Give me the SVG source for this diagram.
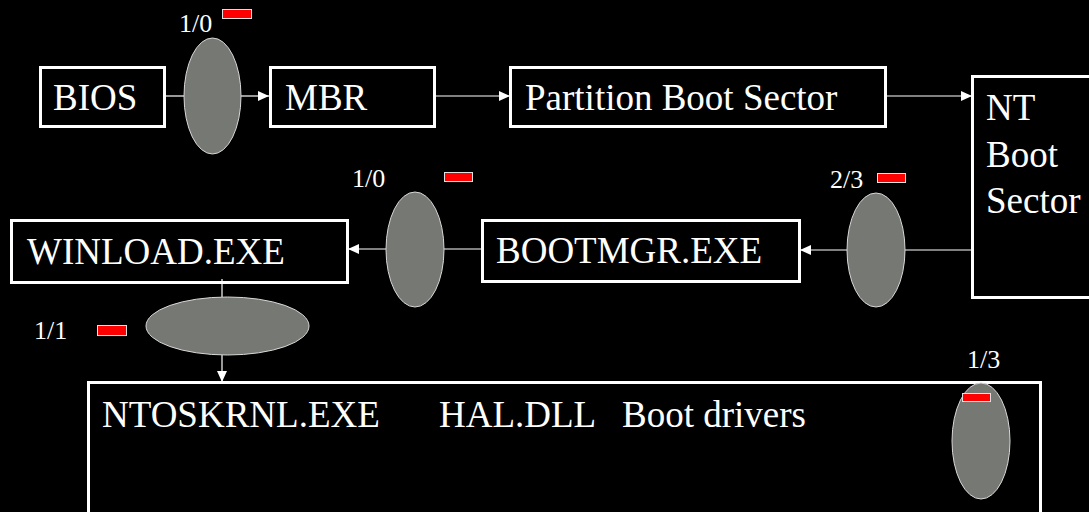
<svg xmlns="http://www.w3.org/2000/svg" width="1089" height="512" viewBox="0 0 1089 512">
<defs>
<marker id="ah" markerUnits="userSpaceOnUse" markerWidth="11" markerHeight="10" refX="11" refY="5" orient="auto">
<path d="M0,0 L11,5 L0,10 z" fill="#fff"/>
</marker>
</defs>
<rect width="1089" height="512" fill="#000"/>
<g id="connectors" stroke="#fff" stroke-width="1.2" fill="none">
<line x1="166" y1="96" x2="184" y2="96"/>
<line x1="241" y1="96" x2="269" y2="96" marker-end="url(#ah)"/>
<line x1="435" y1="96" x2="510" y2="96" marker-end="url(#ah)"/>
<line x1="886" y1="96" x2="972" y2="96" marker-end="url(#ah)"/>
<line x1="972" y1="250" x2="905" y2="250"/>
<line x1="847" y1="250" x2="800" y2="250" marker-end="url(#ah)"/>
<line x1="482" y1="249" x2="444" y2="249"/>
<line x1="386" y1="249" x2="348" y2="249" marker-end="url(#ah)"/>
<line x1="222" y1="279" x2="222" y2="297"/>
<line x1="222" y1="355" x2="222" y2="382" marker-end="url(#ah)"/>
</g>
<g id="bios">
<rect x="40.5" y="67.5" width="124" height="59" fill="none" stroke="#fff" stroke-width="3"/>
<text x="53" y="110" font-family="Liberation Serif" font-size="37" fill="#fff" style="font-family:'Liberation Serif',serif !important">BIOS</text>
</g>
<g id="gate1">
<ellipse cx="212.5" cy="96" rx="28.5" ry="58" fill="#767873" stroke="#d8d8d8" stroke-width="1"/>
<text x="179" y="32" font-family="Liberation Serif" font-size="26" fill="#fff" style="font-family:'Liberation Serif',serif !important">1/0</text>
<rect x="222.5" y="9.5" width="29" height="9" fill="#ff0000" stroke="#e0e0e0" stroke-width="1"/>
</g>
<g id="mbr">
<rect x="270.5" y="67.5" width="164" height="59" fill="none" stroke="#fff" stroke-width="3"/>
<text x="285" y="110" font-family="Liberation Serif" font-size="37" fill="#fff" style="font-family:'Liberation Serif',serif !important">MBR</text>
</g>
<g id="pbs">
<rect x="510.5" y="67.5" width="375" height="59" fill="none" stroke="#fff" stroke-width="3"/>
<text x="525" y="110" font-family="Liberation Serif" font-size="37" fill="#fff" style="font-family:'Liberation Serif',serif !important">Partition Boot Sector</text>
</g>
<g id="ntbs">
<rect x="972.5" y="76.5" width="130" height="221" fill="none" stroke="#fff" stroke-width="3"/>
<text x="986" y="120" font-family="Liberation Serif" font-size="37" fill="#fff" style="font-family:'Liberation Serif',serif !important">NT</text>
<text x="986" y="167" font-family="Liberation Serif" font-size="37" fill="#fff" style="font-family:'Liberation Serif',serif !important">Boot</text>
<text x="986" y="213" font-family="Liberation Serif" font-size="37" fill="#fff" style="font-family:'Liberation Serif',serif !important">Sector</text>
</g>
<g id="gate2">
<ellipse cx="876" cy="250" rx="29" ry="57" fill="#767873" stroke="#d8d8d8" stroke-width="1"/>
<text x="830" y="188" font-family="Liberation Serif" font-size="26" fill="#fff" style="font-family:'Liberation Serif',serif !important">2/3</text>
<rect x="877.5" y="173.5" width="28" height="9" fill="#ff0000" stroke="#e0e0e0" stroke-width="1"/>
</g>
<g id="bootmgr">
<rect x="482.5" y="220.5" width="317" height="61" fill="none" stroke="#fff" stroke-width="3"/>
<text x="496" y="263" font-family="Liberation Serif" font-size="37" fill="#fff" style="font-family:'Liberation Serif',serif !important">BOOTMGR.EXE</text>
</g>
<g id="gate3">
<ellipse cx="415" cy="249.5" rx="29" ry="57.5" fill="#767873" stroke="#d8d8d8" stroke-width="1"/>
<text x="352" y="187" font-family="Liberation Serif" font-size="26" fill="#fff" style="font-family:'Liberation Serif',serif !important">1/0</text>
<rect x="444.5" y="172.5" width="28" height="9" fill="#ff0000" stroke="#e0e0e0" stroke-width="1"/>
</g>
<g id="winload">
<rect x="11.5" y="220.5" width="336" height="62" fill="none" stroke="#fff" stroke-width="3"/>
<text x="27" y="264" font-family="Liberation Serif" font-size="37" fill="#fff" style="font-family:'Liberation Serif',serif !important">WINLOAD.EXE</text>
</g>
<g id="gate4">
<ellipse cx="227.5" cy="326" rx="81.5" ry="29" fill="#767873" stroke="#d8d8d8" stroke-width="1"/>
<text x="34" y="339" font-family="Liberation Serif" font-size="26" fill="#fff" style="font-family:'Liberation Serif',serif !important">1/1</text>
<rect x="97.5" y="325.5" width="29" height="10" fill="#ff0000" stroke="#e0e0e0" stroke-width="1"/>
</g>
<g id="kernel">
<rect x="88.5" y="382.5" width="952" height="140" fill="none" stroke="#fff" stroke-width="3"/>
<text x="102" y="427" font-family="Liberation Serif" font-size="37" fill="#fff" style="font-family:'Liberation Serif',serif !important">NTOSKRNL.EXE</text>
<text x="439" y="427" font-family="Liberation Serif" font-size="37" fill="#fff" style="font-family:'Liberation Serif',serif !important">HAL.DLL</text>
<text x="622" y="427" font-family="Liberation Serif" font-size="37" fill="#fff" style="font-family:'Liberation Serif',serif !important">Boot drivers</text>
</g>
<g id="gate5">
<ellipse cx="981" cy="441" rx="29" ry="58" fill="#767873" stroke="#d8d8d8" stroke-width="1"/>
<text x="967" y="368" font-family="Liberation Serif" font-size="26" fill="#fff" style="font-family:'Liberation Serif',serif !important">1/3</text>
<rect x="962.5" y="393.5" width="28" height="8" fill="#ff0000" stroke="#e0e0e0" stroke-width="1"/>
</g>
</svg>
